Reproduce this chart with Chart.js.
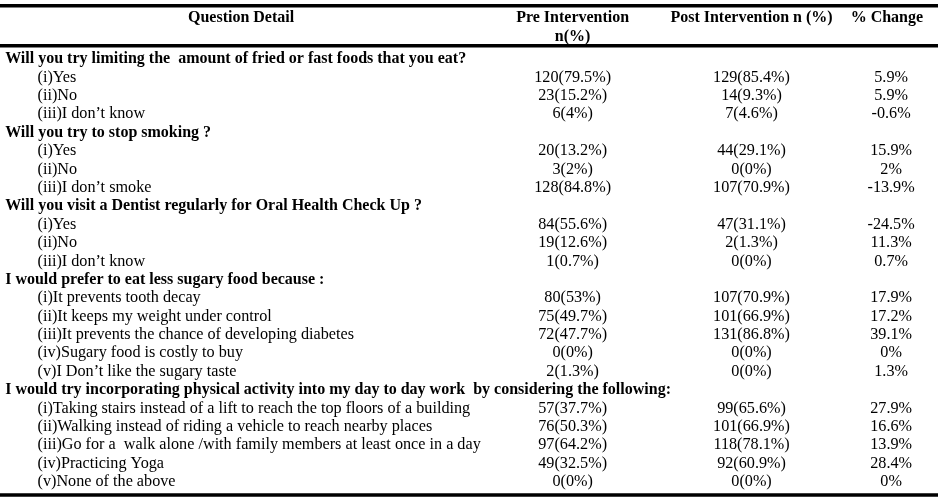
<!DOCTYPE html>
<html>
<head>
<meta charset="utf-8">
<script src="https://cdn.jsdelivr.net/npm/chart.js@4.4.1/dist/chart.umd.min.js"></script>
<style>
  html, body { margin: 0; padding: 0; background: #fff; }
  #wrap { width: 938px; height: 498px; }
</style>
</head>
<body>
<div id="wrap"><canvas id="chartTable" width="938" height="498"></canvas></div>
<script>
// table contents
const headers = ["Question Detail", "Pre Intervention", "n(%)", "Post Intervention n (%)", "% Change"];

const rowLabels = [
  "Will you try limiting the  amount of fried or fast foods that you eat?",
  "(i)Yes",
  "(ii)No",
  "(iii)I don\u2019t know",
  "Will you try to stop smoking ?",
  "(i)Yes",
  "(ii)No",
  "(iii)I don\u2019t smoke",
  "Will you visit a Dentist regularly for Oral Health Check Up ?",
  "(i)Yes",
  "(ii)No",
  "(iii)I don\u2019t know",
  "I would prefer to eat less sugary food because :",
  "(i)It prevents tooth decay",
  "(ii)It keeps my weight under control",
  "(iii)It prevents the chance of developing diabetes",
  "(iv)Sugary food is costly to buy",
  "(v)I Don\u2019t like the sugary taste",
  "I would try incorporating physical activity into my day to day work  by considering the following:",
  "(i)Taking stairs instead of a lift to reach the top floors of a building",
  "(ii)Walking instead of riding a vehicle to reach nearby places",
  "(iii)Go for a  walk alone /with family members at least once in a day",
  "(iv)Practicing Yoga",
  "(v)None of the above",
];

// null = question heading row
const preN    = [null, 120, 23, 6, null, 20, 3, 128, null, 84, 19, 1, null, 80, 75, 72, 0, 2, null, 57, 76, 97, 49, 0];
const prePct  = [null, 79.5, 15.2, 4, null, 13.2, 2, 84.8, null, 55.6, 12.6, 0.7, null, 53, 49.7, 47.7, 0, 1.3, null, 37.7, 50.3, 64.2, 32.5, 0];
const postN   = [null, 129, 14, 7, null, 44, 0, 107, null, 47, 2, 0, null, 107, 101, 131, 0, 0, null, 99, 101, 118, 92, 0];
const postPct = [null, 85.4, 9.3, 4.6, null, 29.1, 0, 70.9, null, 31.1, 1.3, 0, null, 70.9, 66.9, 86.8, 0, 0, null, 65.6, 66.9, 78.1, 60.9, 0];
const change  = [null, 5.9, 5.9, -0.6, null, 15.9, 2, -13.9, null, -24.5, 11.3, 0.7, null, 17.9, 17.2, 39.1, 0, 1.3, null, 27.9, 16.6, 13.9, 28.4, 0];

// column positions on the x scale (0-100 across the page)
const colQuestion = 0.55;
const colOption = 4.0;
const colQHeader = 25.7;
const colPre = 61.05;
const colPost = 80.12;
const colChange = 95.0;
const colChangeHeader = 94.55;

// horizontal rules (row units on the y scale)
const rules = [-2.89, -0.72, 23.71];

const FONT = '"Liberation Serif", "Times New Roman", serif';

const textDataset = (name, points, texts, opts) => ({
  label: name,
  type: "scatter",
  data: points,
  texts: texts,
  align: opts.align,
  bold: opts.bold,
  pointRadius: 0,
  pointHoverRadius: 0,
  showLine: false,
});

const datasets = [];

rules.forEach((r, i) => {
  datasets.push({
    label: "rule" + i,
    type: "line",
    data: [{ x: 0, y: r }, { x: 100, y: r }],
    borderColor: "#000",
    borderWidth: 3.5,
    pointRadius: 0,
    fill: false,
  });
});

datasets.push(textDataset("head-left", [{ x: colQHeader, y: -2.25 }], [headers[0]], { align: "center", bold: true }));
datasets.push(textDataset("head-pre", [{ x: colPre, y: -2.25 }, { x: colPre, y: -1.21 }], [headers[1], headers[2]], { align: "center", bold: true }));
datasets.push(textDataset("head-post", [{ x: colPost, y: -2.25 }], [headers[3]], { align: "center", bold: true }));
datasets.push(textDataset("head-change", [{ x: colChangeHeader, y: -2.25 }], [headers[4]], { align: "center", bold: true }));

const qPts = [], qTxt = [], oPts = [], oTxt = [];
const prePts = [], preTxt = [], postPts = [], postTxt = [], chPts = [], chTxt = [];
rowLabels.forEach((lab, i) => {
  if (preN[i] === null) {
    qPts.push({ x: colQuestion, y: i });
    qTxt.push(lab);
    return;
  }
  oPts.push({ x: colOption, y: i });
  oTxt.push(lab);
  prePts.push({ x: colPre, y: i });
  preTxt.push(preN[i] + "(" + prePct[i] + "%)");
  postPts.push({ x: colPost, y: i });
  postTxt.push(postN[i] + "(" + postPct[i] + "%)");
  chPts.push({ x: colChange, y: i });
  chTxt.push(change[i] + "%");
});

datasets.push(textDataset("questions", qPts, qTxt, { align: "left", bold: true }));
datasets.push(textDataset("options", oPts, oTxt, { align: "left", bold: false }));
datasets.push(textDataset("pre", prePts, preTxt, { align: "center", bold: false }));
datasets.push(textDataset("post", postPts, postTxt, { align: "center", bold: false }));
datasets.push(textDataset("change", chPts, chTxt, { align: "center", bold: false }));

const cellText = {
  id: "cellText",
  afterDatasetsDraw(chart) {
    const ctx = chart.ctx;
    ctx.save();
    ctx.fillStyle = "#000";
    ctx.textBaseline = "middle";
    chart.data.datasets.forEach((ds, di) => {
      if (!ds.texts) return;
      const meta = chart.getDatasetMeta(di);
      ctx.font = ds.bold ? "bold 16px " + FONT : "16.2px " + FONT;
      ctx.textAlign = ds.align;
      meta.data.forEach((pt, j) => {
        ctx.fillText(ds.texts[j], pt.x, pt.y);
      });
    });
    ctx.restore();
  },
};

const rowPx = 18.39;
const yMin = -59 / rowPx;

new Chart(document.getElementById("chartTable"), {
  type: "scatter",
  data: { datasets },
  options: {
    responsive: false,
    animation: false,
    events: [],
    layout: { padding: 0 },
    plugins: { legend: { display: false }, tooltip: { enabled: false } },
    scales: {
      x: { type: "linear", min: 0, max: 100, display: false },
      y: { type: "linear", reverse: true, min: yMin, max: yMin + 498 / rowPx, display: false },
    },
  },
  plugins: [cellText],
});
</script>
</body>
</html>
